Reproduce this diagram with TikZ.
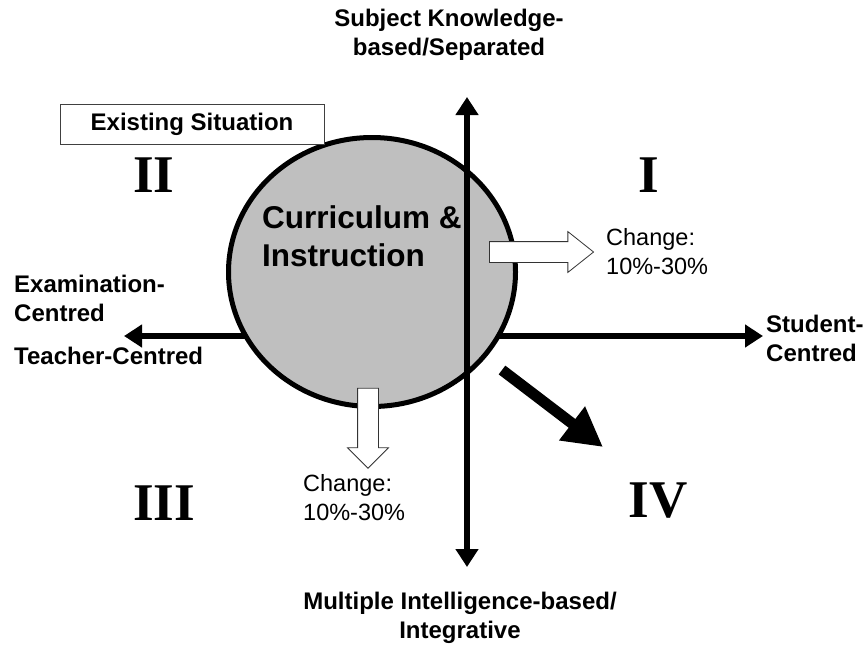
\documentclass[tikz,border=0pt]{standalone}
\usepackage{fontspec}
\setmainfont{Liberation Sans}
\newfontfamily\numfont{Liberation Serif}
\usetikzlibrary{shapes.geometric, shapes.arrows, arrows.meta, positioning}

\begin{document}
\begin{tikzpicture}[
    x=1pt, y=-1pt,
    axislbl/.style={font=\bfseries\fontsize{24}{29}\selectfont, inner sep=0pt, align=left},
    quadlbl/.style={font=\numfont\bfseries\fontsize{53}{60}\selectfont, inner sep=0pt},
    changelbl/.style={font=\fontsize{23.5}{29}\selectfont, inner sep=0pt, align=left},
    axis/.style={line width=6pt, {Triangle[length=18pt,width=22pt]}-{Triangle[length=18pt,width=22pt]}},
    blockarrow/.style={single arrow, draw=black!80, line width=0.8pt, fill=white, inner xsep=0pt, inner ysep=10pt, single arrow head extend=10pt},
    bigarrow/.style={line width=11pt, -{Triangle[length=39pt,width=40pt]}}
]
\useasboundingbox (0,0) rectangle (864,646);

% axis end points
\coordinate (ntip) at (467,97);
\coordinate (stip) at (467,567);
\coordinate (wtip) at (124,336);
\coordinate (etip) at (763,336);

\draw[axis] (wtip) -- (etip);

\node[ellipse, draw, line width=5pt, fill=black!25, minimum width=287pt, minimum height=269pt, inner sep=0pt] (ci) at (372,272) {};

\draw[axis] (ntip) -- (stip);

\node[draw=black!75, line width=0.8pt, fill=white, minimum width=264pt, minimum height=40pt, font=\bfseries\fontsize{24}{29}\selectfont] (exist) at (192,124) {Existing Situation};

\node[font=\bfseries\fontsize{31.5}{38}\selectfont, inner sep=0pt, align=left, anchor=west] (citext) at (262,236) {Curriculum \&\\Instruction};

% change arrows
\node[blockarrow, minimum height=104pt, single arrow tip angle=77] (rarr) at (535,252) {};
\node[blockarrow, minimum height=80pt, single arrow tip angle=90, rotate=-90] (darr) at (368,423) {};
\node[changelbl, anchor=west] (rchg) at (606,251.5) {Change:\\10\%-30\%};
\node[changelbl, anchor=west] (dchg) at (303,498) {Change:\\10\%-30\%};

\coordinate (bigs) at (502,370);
\coordinate (bige) at (603,447);
\draw[bigarrow] (bigs) -- (bige);

% quadrants
\node[quadlbl] (q1) at (649,175) {I};
\node[quadlbl] (q2) at (154,175) {II};
\node[quadlbl] (q3) at (164,503) {III};
\node[quadlbl] (q4) at (658,501) {IV};

% axis labels
\node[axislbl, align=center] (top) at (449,35) {Subject Knowledge-\\based/Separated};
\node[axislbl, align=center] (bot) at (460,618) {Multiple Intelligence-based/\\Integrative};
\node[axislbl, anchor=west] (exam) at (14,298.5) {Examination-\\Centred};
\node[axislbl, anchor=west] (teach) at (14,356) {Teacher-Centred};
\node[axislbl, anchor=west] (stud) at (766,338.5) {Student-\\Centred};

\end{tikzpicture}
\end{document}
